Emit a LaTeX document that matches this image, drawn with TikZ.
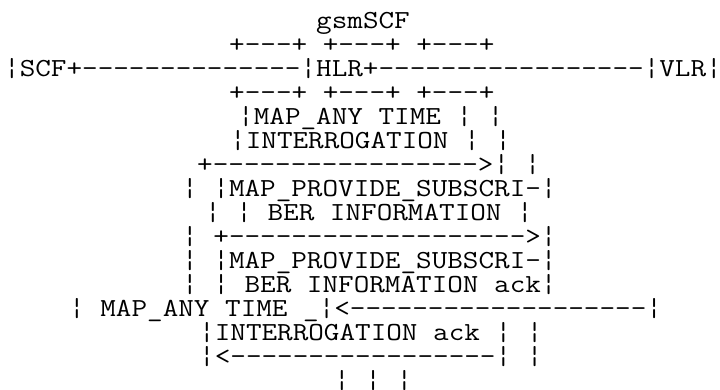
\documentclass[tikz,border=0pt]{standalone}
\usepackage{graphicx}
\usepackage{tikz}

% one row of the character drawing, widened to the cell of the reference
\newcommand{\asciifont}{\ttfamily\fontsize{26}{26}\selectfont}
\newcommand{\row}[1]{\scalebox{1.165}[1]{#1}}
\newcommand{\dashes}[1]{\foreach \k in {1,...,#1}{-\kern0pt}}
\newcommand{\bb}{¦}

\begin{document}
\begin{tikzpicture}[
  x=1pt, y=1pt,
  line/.style={anchor=base west, inner sep=0pt, font=\asciifont},
]
\useasboundingbox (0,0) rectangle (720,390);

% ---- entities ------------------------------------------------------------
\node[line] (title)   at (316, 361) {\row{gsmSCF}};
\node[line] (boxtop)  at (229, 337) {\row{+\dashes{3}+ +\dashes{3}+ +\dashes{3}+}};
\node[line] (links)   at (4, 313)
  {\row{\bb SCF+\dashes{14}\bb HLR+\dashes{17}\bb VLR\bb}};
\node[line] (boxbot)  at (229, 289) {\row{+\dashes{3}+ +\dashes{3}+ +\dashes{3}+}};

% ---- any time interrogation ----------------------------------------------
\node[line] (atiname) at (238, 265) {\row{\bb MAP\_ANY TIME \bb{} \bb}};
\node[line] (atiint)  at (230, 241) {\row{\bb INTERROGATION \bb{} \bb}};
\node[line] (atiarr)  at (197, 217) {\row{+\dashes{17}>\bb{} \bb}};

% ---- provide subscriber information --------------------------------------
\node[line] (psiname) at (182, 193) {\row{\bb{} \bb MAP\_PROVIDE\_SUBSCRI-\bb}};
\node[line] (psiinfo) at (205, 169) {\row{\bb{} \bb{} BER INFORMATION \bb}};
\node[line] (psiarr)  at (182, 145) {\row{\bb{} +\dashes{19}>\bb}};

% ---- acknowledgements ----------------------------------------------------
\node[line] (psiack)  at (182, 121) {\row{\bb{} \bb MAP\_PROVIDE\_SUBSCRI-\bb}};
\node[line] (psiackb) at (182, 97)  {\row{\bb{} \bb{} BER INFORMATION ack\bb}};
\node[line] (atiack)  at (69, 73)
  {\row{\bb{} MAP\_ANY TIME \_\bb<\dashes{19}\bb}};
\node[line] (atiackb) at (199, 49)  {\row{\bb INTERROGATION ack \bb{} \bb}};
\node[line] (atiret)  at (199, 25)  {\row{\bb<\dashes{17}\bb{} \bb}};
\node[line] (tail)    at (334, 1)   {\row{\bb{} \bb{} \bb}};

\end{tikzpicture}
\end{document}
